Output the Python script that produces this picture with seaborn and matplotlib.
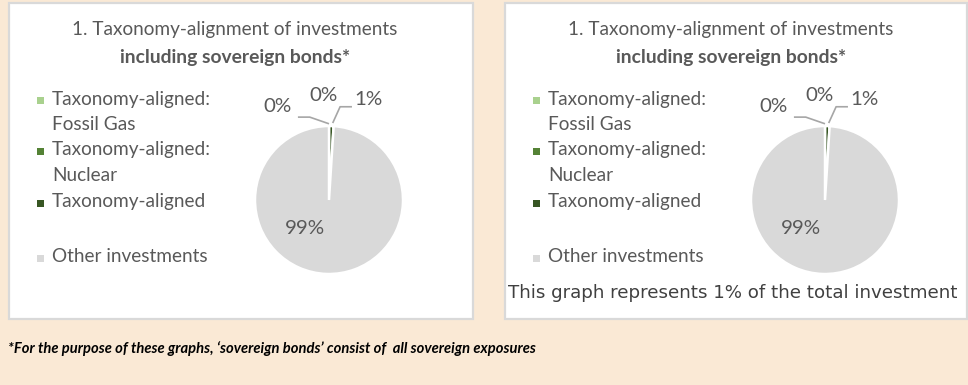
import matplotlib
matplotlib.use("Agg")
import matplotlib.pyplot as plt
from matplotlib.patches import Rectangle
import seaborn as sns

# Share of investments per category (%)
categories = ["Taxonomy-aligned:\nFossil Gas", "Taxonomy-aligned:\nNuclear",
              "Taxonomy-aligned", "Other investments"]
shares_left = [0, 0, 1, 99]
shares_right = [0, 0, 1, 99]
palette = sns.color_palette(["#A9D18E", "#548235", "#375623", "#D9D9D9"])

title_line1 = "1. Taxonomy-alignment of investments"
title_line2 = "including sovereign bonds*"
right_note = "This graph represents 1% of the total investment"
footnote = "*For the purpose of these graphs, \u2018sovereign bonds\u2019 consist of  all sovereign exposures"

sns.set_theme(style="white")
plt.rcParams["font.family"] = ["Lato", "DejaVu Sans"]

W, H = 968, 385
fig = plt.figure(figsize=(W / 100, H / 100), dpi=100)
fig.patch.set_facecolor("#FAE9D5")
renderer = fig.canvas.get_renderer()
TXT = "#595959"


def fx(x):
    return x / W


def fy(y):
    return 1 - y / H


def fit_size(s, target_px, **kw):
    t = fig.text(0, 0, s, fontsize=10, **kw)
    w = t.get_window_extent(renderer).width
    t.remove()
    return 10 * target_px / w


legend_fs = fit_size("Taxonomy-aligned:", 160)
label_fs = fit_size("99%", 40)
title_fs = fit_size(title_line1, 327)
title_bold_fs = fit_size(title_line2, 232, fontweight="bold")
note_fs = fit_size(right_note, 451, family="DejaVu Sans")
foot_fs = fit_size(footnote, 525, fontweight="bold", fontstyle="italic")


def draw_panel(dx, values, width, note=None):
    # white card
    fig.patches.append(Rectangle((fx(9 + dx), fy(319)), (width) / W, 316 / H,
                                 transform=fig.transFigure, facecolor="white",
                                 edgecolor="#D9D9D9", linewidth=1.6, zorder=0))
    # title
    fig.text(fx(235 + dx), fy(30), title_line1, ha="center", va="center",
             fontsize=title_fs, color=TXT)
    fig.text(fx(235 + dx), fy(57), title_line2, ha="center", va="center",
             fontsize=title_bold_fs, fontweight="bold", color=TXT)

    # legend
    first_rows = [99, 150, 202, 257]
    for lab, col, y0 in zip(categories, palette, first_rows):
        fig.patches.append(Rectangle((fx(37 + dx), fy(y0 + 5)), 7 / W, 7 / H,
                                     transform=fig.transFigure, facecolor=col,
                                     edgecolor="none", zorder=1))
        for i, line in enumerate(lab.split("\n")):
            fig.text(fx(52 + dx), fy(y0 + i * 26), line, ha="left", va="center",
                     fontsize=legend_fs, color=TXT)

    # pie
    cx, cy, R, S = 329 + dx, 200, 74, 110
    ax = fig.add_axes([fx(cx - S), fy(cy + S), 2 * S / W, 2 * S / H])
    ax.set_zorder(3)
    ax.patch.set_alpha(0)
    ax.pie(values, colors=palette, startangle=90, counterclock=False, radius=1,
           wedgeprops=dict(edgecolor="white", linewidth=1.8))
    ax.set_xlim(-S / R, S / R)
    ax.set_ylim(-S / R, S / R)
    ax.set_aspect("equal")
    ax.axis("off")

    # data labels with leader lines
    lab_pos = [(-0.69, 1.27), (-0.07, 1.41), (0.54, 1.36), (-0.32, -0.39)]
    for v, (lx, ly) in zip(values, lab_pos):
        ax.text(lx, ly, f"{v:.0f}%", ha="center", va="center",
                fontsize=label_fs, color=TXT, clip_on=False)
    ax.plot([-0.42, -0.26, 0.0], [1.12, 1.12, 1.03], color="#A6A6A6",
            lw=1.2, clip_on=False, solid_capstyle="butt")
    ax.plot([0.31, 0.15, 0.05], [1.26, 1.26, 1.04], color="#A6A6A6",
            lw=1.2, clip_on=False, solid_capstyle="butt")

    if note:
        fig.text(fx(733), fy(293), note, ha="center", va="center",
                 fontsize=note_fs, family="DejaVu Sans", color="#404040")


draw_panel(0, shares_left, 464)
draw_panel(496, shares_right, 462, note=right_note)

fig.text(fx(8), fy(349), footnote, ha="left", va="center", fontsize=foot_fs,
         fontweight="bold", fontstyle="italic", color="black")

fig.savefig("out.png", dpi=100, facecolor=fig.get_facecolor())
